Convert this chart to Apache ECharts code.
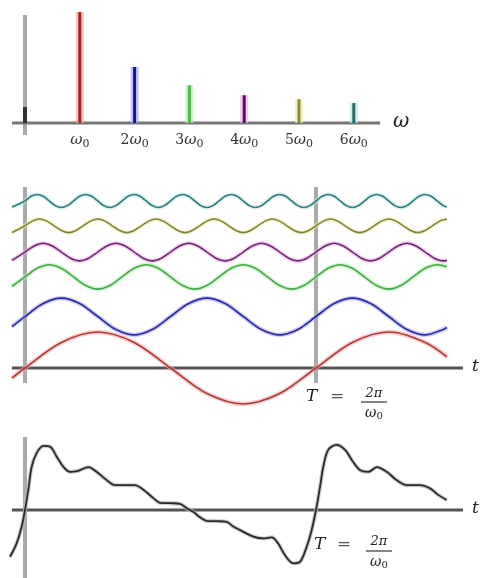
<!DOCTYPE html>
<html><head><meta charset="utf-8">
<script src="https://cdn.jsdelivr.net/npm/echarts@6/dist/echarts.min.js"></script>
<style>html,body{margin:0;padding:0;background:#fff}#c{width:481px;height:578px}</style>
</head><body><div id="c"></div>
<script>
// ---- data ----
const harmonicOrders = [1, 2, 3, 4, 5, 6];
const spectrumAmplitudes = [1.0, 0.505, 0.34, 0.25, 0.215, 0.18];
const dcAmplitude = 0.144;
const waveOffsets = [0, 1.43, 2.53, 3.22, 3.95, 4.64];
const waveStart = -0.045, waveEnd = 1.45;   // t in units of T
// values at t = waveStart, then every eighth of a period of each harmonic, then at waveEnd
const wave1 = [-0.28,
  0, .71, 1, .71, 0, -.71, -1, -.71,
  0, .71, 1, .71,
  0.31];
const wave2 = [-0.28,
  0, .36, .51, .36, 0, -.36, -.51, -.36,
  0, .36, .51, .36, 0, -.36, -.51, -.36,
  0, .36, .51, .36, 0, -.36, -.51, -.36,
  -0.30];
const wave3 = [-0.26,
  0, .24, .34, .24, 0, -.24, -.34, -.24,
  0, .24, .34, .24, 0, -.24, -.34, -.24,
  0, .24, .34, .24, 0, -.24, -.34, -.24,
  0, .24, .34, .24, 0, -.24, -.34, -.24,
  0, .24, .34,
  0.28];
const wave4 = [-0.23,
  0, .17, .245, .17, 0, -.17, -.245, -.17,
  0, .17, .245, .17, 0, -.17, -.245, -.17,
  0, .17, .245, .17, 0, -.17, -.245, -.17,
  0, .17, .245, .17, 0, -.17, -.245, -.17,
  0, .17, .245, .17, 0, -.17, -.245, -.17,
  0, .17, .245, .17, 0, -.17, -.245,
  -0.23];
const wave5 = [-0.19,
  0, .13, .19, .13, 0, -.13, -.19, -.13,
  0, .13, .19, .13, 0, -.13, -.19, -.13,
  0, .13, .19, .13, 0, -.13, -.19, -.13,
  0, .13, .19, .13, 0, -.13, -.19, -.13,
  0, .13, .19, .13, 0, -.13, -.19, -.13,
  0, .13, .19, .13, 0, -.13, -.19, -.13,
  0, .13, .19, .13, 0, -.13, -.19, -.13,
  0, .13, .19];
const wave6 = [-0.17,
  0, .13, .18, .13, 0, -.13, -.18, -.13,
  0, .13, .18, .13, 0, -.13, -.18, -.13,
  0, .13, .18, .13, 0, -.13, -.18, -.13,
  0, .13, .18, .13, 0, -.13, -.18, -.13,
  0, .13, .18, .13, 0, -.13, -.18, -.13,
  0, .13, .18, .13, 0, -.13, -.18, -.13,
  0, .13, .18, .13, 0, -.13, -.18, -.13,
  0, .13, .18, .13, 0, -.13, -.18, -.13,
  0, .13, .18, .13, 0, -.13,
  -0.17];
const sumT = [-0.0515, -0.0285, -0.0113, 0, 0.0113, 0.023, 0.040, 0.063, 0.086, 0.109, 0.132, 0.155, 0.183, 0.218, 0.246, 0.281, 0.309, 0.344, 0.378, 0.407, 0.441, 0.464, 0.498, 0.533, 0.556, 0.578, 0.601, 0.624, 0.659, 0.693, 0.716, 0.739, 0.785, 0.819, 0.848, 0.870, 0.893, 0.922, 0.945, 0.968, 0.985, 1.0, 1.014, 1.025, 1.042, 1.071, 1.100, 1.123, 1.151, 1.180, 1.209, 1.243, 1.277, 1.312, 1.357, 1.392, 1.420, 1.449];
const sumV = [-1.30, -0.92, -0.46, 0, 0.56, 1.20, 1.58, 1.78, 1.76, 1.48, 1.20, 1.06, 1.09, 1.19, 1.06, 0.83, 0.69, 0.69, 0.69, 0.56, 0.33, 0.20, 0.19, 0.17, 0.05, -0.05, -0.20, -0.30, -0.31, -0.33, -0.46, -0.56, -0.74, -0.79, -0.76, -0.93, -1.25, -1.48, -1.44, -1.02, -0.56, 0, 0.65, 1.20, 1.67, 1.81, 1.67, 1.39, 1.11, 1.06, 1.19, 1.06, 0.83, 0.69, 0.69, 0.60, 0.42, 0.28];

// ---- styling ----
const stemColors = ['#a82020', '#12129a', '#50b850', '#5a1060', '#8a8a3c', '#2e6868'];
const glowColors = ['#ffa8a8', '#a8a8ff', '#b8f0b8', '#f0b0f0', '#f0f0b0', '#b0eeee'];
const waveColors = ['#a83c3c', '#2c2c9a', '#44a844', '#6c2c6c', '#80803e', '#3e7676'];
const waves = [wave1, wave2, wave3, wave4, wave5, wave6];
const SERIF = '"DejaVu Serif", "Liberation Serif", serif';

function seg(name, grid, data, color, width, extra) {
  return Object.assign({
    name, type: 'line', xAxisIndex: grid, yAxisIndex: grid, data,
    symbol: 'none', silent: true, clip: false,
    lineStyle: { color, width }
  }, extra || {});
}

const series = [];
// top: spectrum
series.push(seg('vaxis0', 0, [[0, -0.108], [0, 0.973]], '#aaaaaa', 4));
series.push(seg('haxis0', 0, [[-0.237, 0], [6.48, 0]], '#767676', 3));
series.push(seg('dc', 0, [[0, 0], [0, dcAmplitude]], '#333333', 4));
harmonicOrders.forEach((n, i) => {
  const d = [[n, 0], [n, spectrumAmplitudes[i]]];
  series.push(seg('stemGlow' + n, 0, d, glowColors[i], 8, { lineStyle: { color: glowColors[i], width: 8, opacity: 0.7, cap: 'butt' } }));
  series.push(seg('stem' + n, 0, d, stemColors[i], 3, { lineStyle: { color: stemColors[i], width: 3, cap: 'butt' } }));
});
// middle: harmonics
series.push(seg('vaxis1a', 1, [[0, -0.42], [0, 5.03]], '#aaaaaa', 4));
series.push(seg('vaxis1b', 1, [[1, -0.42], [1, 5.03]], '#aaaaaa', 4));
series.push(seg('haxis1', 1, [[-0.045, 0], [1.505, 0]], '#555555', 3));
harmonicOrders.forEach((n, i) => {
  const w = waves[i];
  const data = [[waveStart, w[0] + waveOffsets[i]]];
  for (let j = 1; j < w.length; j++) {
    data.push([Math.min((j - 1) / (8 * n), waveEnd), w[j] + waveOffsets[i]]);
  }
  series.push(seg('waveGlow' + n, 1, data, glowColors[i], 4.5, { smooth: 0.33, lineStyle: { color: glowColors[i], width: 4.5, opacity: 0.6 } }));
  series.push(seg('wave' + n, 1, data, waveColors[i], 1.6, { smooth: 0.33, lineStyle: { color: waveColors[i], width: 1.6 } }));
});
// bottom: sum
series.push(seg('vaxis2', 2, [[0, -1.95], [0, 2.03]], '#aaaaaa', 4));
series.push(seg('haxis2', 2, [[-0.045, 0], [1.505, 0]], '#555555', 3));
const sumData = sumT.map((t, i) => [t, sumV[i]]);
series.push(seg('sumGlow', 2, sumData, '#bbbbbb', 4, { smooth: 0.33, lineStyle: { color: '#bbbbbb', width: 4, opacity: 0.8 } }));
series.push(seg('sum', 2, sumData, '#2a2a2a', 1.8, { smooth: 0.33, lineStyle: { color: '#2a2a2a', width: 1.8 } }));

const hidden = { show: false };
const sub = (fs, pad) => ({ fontFamily: SERIF, fontSize: fs, color: '#333', verticalAlign: 'top', lineHeight: 16, padding: [pad, 0, 0, 0] });
const option = {
  animation: false,
  backgroundColor: '#ffffff',
  grid: [
    { left: -29.8, width: 438.4, top: 0, height: 123, outerBoundsMode: 'none', containLabel: false },
    { left: 0, width: 481, top: 180, height: 250, outerBoundsMode: 'none', containLabel: false },
    { left: 0, width: 481, top: 430, height: 148, outerBoundsMode: 'none', containLabel: false }
  ],
  xAxis: [
    { type: 'value', gridIndex: 0, min: -1, max: 7, interval: 1,
      axisLine: hidden, axisTick: hidden, splitLine: hidden,
      axisLabel: {
        margin: 10, color: '#333', hideOverlap: false,
        formatter: v => (v === 1 ? '{w|ω}{s|0}' : (v >= 2 && v <= 6 ? '{n|' + v + '}{w|ω}{s|0}' : '')),
        rich: {
          n: { fontFamily: SERIF, fontSize: 14, color: '#333', verticalAlign: 'top', lineHeight: 16 },
          w: { fontFamily: SERIF, fontStyle: 'italic', fontSize: 15, color: '#333', verticalAlign: 'top', lineHeight: 16 },
          s: sub(11, 6)
        }
      } },
    { type: 'value', gridIndex: 1, min: -0.0859, max: 1.5670, show: false },
    { type: 'value', gridIndex: 2, min: -0.0859, max: 1.5670, show: false }
  ],
  yAxis: [
    { type: 'value', gridIndex: 0, min: 0, max: 1.1081, show: false },
    { type: 'value', gridIndex: 1, min: -1.7222, max: 5.2222, show: false },
    { type: 'value', gridIndex: 2, min: -1.8889, max: 2.2222, show: false }
  ],
  graphic: [
    { type: 'text', left: 393, top: 112, style: { text: 'ω', font: 'italic 20px ' + SERIF, fill: '#222' } },
    { type: 'text', left: 472, top: 358, style: { text: 't', font: 'italic 17px ' + SERIF, fill: '#222' } },
    { type: 'text', left: 472, top: 500, style: { text: 't', font: 'italic 17px ' + SERIF, fill: '#222' } },
    // T = 2π/ω0 (middle)
    { type: 'text', left: 306, top: 388, style: { text: 'T', font: 'italic 17px ' + SERIF, fill: '#222' } },
    { type: 'text', left: 330, top: 388, style: { text: '=', font: '17px ' + SERIF, fill: '#555' } },
    { type: 'text', x: 374, y: 394, style: { text: '2π', font: 'italic 13px ' + SERIF, fill: '#222', align: 'center', verticalAlign: 'middle' } },
    { type: 'line', shape: { x1: 361, y1: 402, x2: 387, y2: 402 }, style: { stroke: '#333', lineWidth: 1.2 } },
    { type: 'text', x: 374, y: 413, style: { text: '{w|ω}{s|0}', align: 'center', verticalAlign: 'middle', rich: {
      w: { font: 'italic 14px ' + SERIF, fill: '#222' }, s: { font: '10px ' + SERIF, fill: '#222', padding: [6, 0, 0, 0] } } } },
    // T = 2π/ω0 (bottom)
    { type: 'text', left: 314, top: 536, style: { text: 'T', font: 'italic 17px ' + SERIF, fill: '#222' } },
    { type: 'text', left: 337, top: 536, style: { text: '=', font: '17px ' + SERIF, fill: '#555' } },
    { type: 'text', x: 379, y: 542, style: { text: '2π', font: 'italic 13px ' + SERIF, fill: '#222', align: 'center', verticalAlign: 'middle' } },
    { type: 'line', shape: { x1: 366, y1: 551, x2: 392, y2: 551 }, style: { stroke: '#333', lineWidth: 1.2 } },
    { type: 'text', x: 379, y: 562, style: { text: '{w|ω}{s|0}', align: 'center', verticalAlign: 'middle', rich: {
      w: { font: 'italic 14px ' + SERIF, fill: '#222' }, s: { font: '10px ' + SERIF, fill: '#222', padding: [6, 0, 0, 0] } } } }
  ],
  series
};
const chart = echarts.init(document.getElementById('c'), null, { renderer: 'canvas' });
chart.setOption(option);
</script>
</body></html>
